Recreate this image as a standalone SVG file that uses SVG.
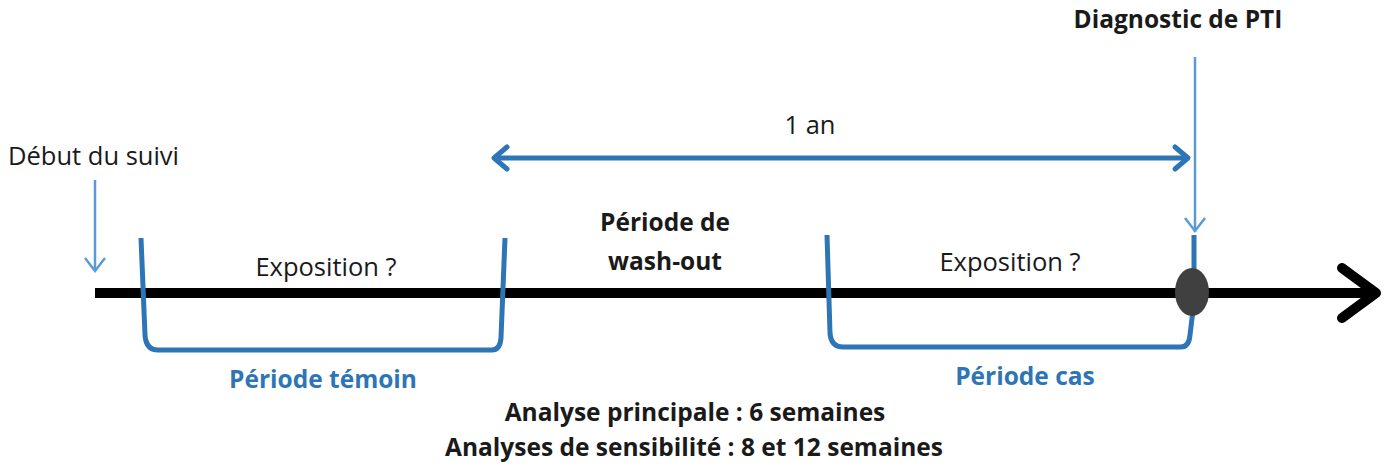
<svg xmlns="http://www.w3.org/2000/svg" width="1392" height="467" viewBox="0 0 1392 467">
<style>
text{font-family:"Open Sans","Noto Sans",sans-serif;fill:#1a1a1a}
.r{font-size:25.5px}
.b{font-size:24.5px;font-weight:bold}
.bl{fill:#2e75b6;font-size:24.5px;font-weight:bold}
.brk{fill:none;stroke:#2e75b6;stroke-width:5;stroke-linejoin:round}
.lb{stroke:#5b9bd5;stroke-width:2.5;fill:none}
.ar{fill:none;stroke:#2e75b6;stroke-width:5;stroke-linecap:round;stroke-linejoin:round}
</style>
<g id="connectors">
<g id="timeline">
<line x1="95" y1="293" x2="1370" y2="293" stroke="#000" stroke-width="10"/>
<polyline points="1342,268 1376,293 1342,318" fill="none" stroke="#000" stroke-width="10" stroke-linecap="round" stroke-linejoin="round"/>
</g>
<g id="debut-arrow">
<line x1="95" y1="180" x2="95" y2="271" class="lb"/>
<polyline points="85,258 95,271 105,258" class="lb"/>
</g>
<g id="diag-arrow">
<line x1="1195" y1="57" x2="1195" y2="232" class="lb"/>
<polyline points="1185,218 1195,231 1205,218" class="lb"/>
</g>
<g id="one-year">
<line x1="494" y1="158" x2="1188" y2="158" stroke="#2e75b6" stroke-width="5"/>
<polyline points="507,147 494,158 507,169" class="ar"/>
<polyline points="1175,147 1188,158 1175,169" class="ar"/>
</g>
</g>
<g id="periode-temoin">
<path class="brk" d="M141,238 L145,335 Q146,350 158,350 L492,350 Q500,350 501,338 L505,238"/>
<text x="326" y="276" class="r" text-anchor="middle">Exposition ?</text>
<text x="323" y="388" class="bl" text-anchor="middle">Période témoin</text>
</g>
<g id="periode-cas">
<path class="brk" d="M827,235 L830,333 Q831,347 843,347 L1181,347 Q1189,347 1190,335 L1193,310"/>
<line x1="1194" y1="235" x2="1194" y2="272" stroke="#2e75b6" stroke-width="5"/>
<ellipse cx="1192" cy="292" rx="17" ry="24" fill="#404040"/>
<text x="1010" y="271" class="r" text-anchor="middle">Exposition ?</text>
<text x="1025" y="385" class="bl" text-anchor="middle">Période cas</text>
</g>
<g id="washout">
<text x="665" y="231" class="b" text-anchor="middle">Période de</text>
<text x="665" y="270" class="b" text-anchor="middle">wash-out</text>
</g>
<g id="labels">
<text x="8" y="165" class="r">Début du suivi</text>
<text x="1178" y="28" class="b" text-anchor="middle">Diagnostic de PTI</text>
<text x="810" y="134" class="r" text-anchor="middle">1 an</text>
<text x="695" y="421" class="b" text-anchor="middle">Analyse principale : 6 semaines</text>
<text x="694" y="456" class="b" text-anchor="middle">Analyses de sensibilité : 8 et 12 semaines</text>
</g>
</svg>
